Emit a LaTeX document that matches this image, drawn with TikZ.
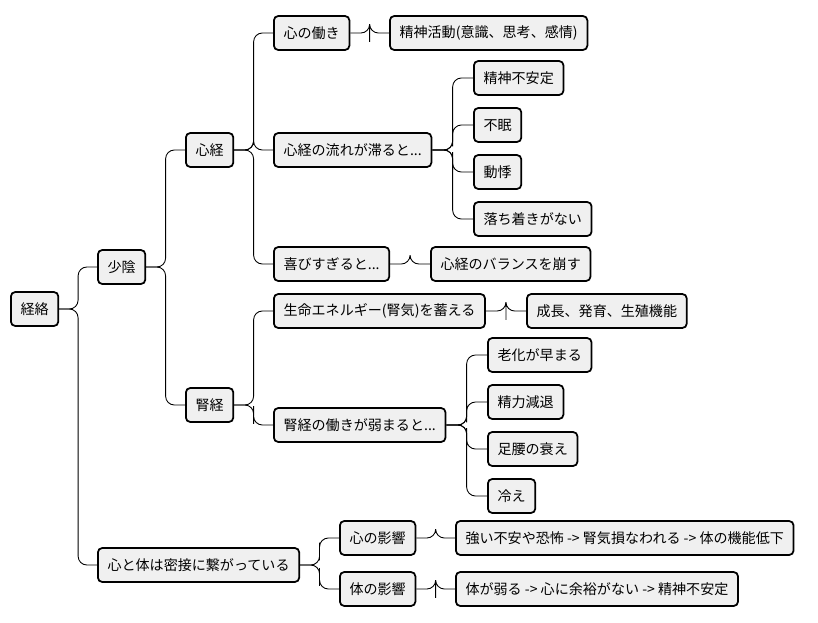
\documentclass[tikz,border=0pt]{standalone}
\usepackage{fontspec}
\setmainfont{Noto Sans CJK JP}
\usetikzlibrary{calc}
\begin{document}
\begin{tikzpicture}[x=0.02cm, y=-0.02cm,
                    box/.style={draw, fill=black!6, line width=1pt, rounded corners=2.5pt,
                                minimum height=0.68cm, inner xsep=5.5pt, anchor=west,
                                font=\fontsize{8}{9}\selectfont},
                    edge/.style={line width=0.5pt, rounded corners=5pt}
                    ]
    \useasboundingbox (0,0) rectangle (818,622);

    \node[box] (root) at (10,309) {経絡};
    \node[box] (shao) at (97,267) {少陰};
    \node[box] (heart) at (185,150) {心経};
    \node[box] (kid) at (185,405) {腎経};
    \node[box] (mind) at (97,565) {心と体は密接に繋がっている};

    \node[box] (work) at (273,33) {心の働き};
    \node[box] (act) at (389,33) {精神活動(意識、思考、感情)};
    \node[box] (flow) at (273,150) {心経の流れが滞ると...};
    \node[box] (f1) at (473,78) {精神不安定};
    \node[box] (f2) at (473,125) {不眠};
    \node[box] (f3) at (473,172) {動悸};
    \node[box] (f4) at (473,219) {落ち着きがない};
    \node[box] (joy) at (273,264) {喜びすぎると...};
    \node[box] (bal) at (430,264) {心経のバランスを崩す};

    \node[box] (store) at (273,311) {生命エネルギー(腎気)を蓄える};
    \node[box] (grow) at (526,311) {成長、発育、生殖機能};
    \node[box] (weak) at (273,425) {腎経の働きが弱まると...};
    \node[box] (w1) at (487,355) {老化が早まる};
    \node[box] (w2) at (487,402) {精力減退};
    \node[box] (w3) at (487,449) {足腰の衰え};
    \node[box] (w4) at (487,496) {冷え};

    \node[box] (m1) at (339,538) {心の影響};
    \node[box] (m1a) at (455,538) {強い不安や恐怖 -> 腎気損なわれる -> 体の機能低下};
    \node[box] (m2) at (339,589) {体の影響};
    \node[box] (m2a) at (455,589) {体が弱る -> 心に余裕がない -> 精神不安定};

    % elbow links
    \foreach \a/\b in {root/shao, root/mind, shao/heart, shao/kid,
                       heart/work, heart/flow, heart/joy, work/act,
                       flow/f1, flow/f2, flow/f3, flow/f4, joy/bal,
                       kid/store, kid/weak, store/grow,
                       weak/w1, weak/w2, weak/w3, weak/w4,
                       mind/m1, mind/m2, m1/m1a, m2/m2a}
        \draw[edge] (\a.east) -| ($(\a.east)!.5!(\b.west)$) |- (\b.west);
\end{tikzpicture}
\end{document}
